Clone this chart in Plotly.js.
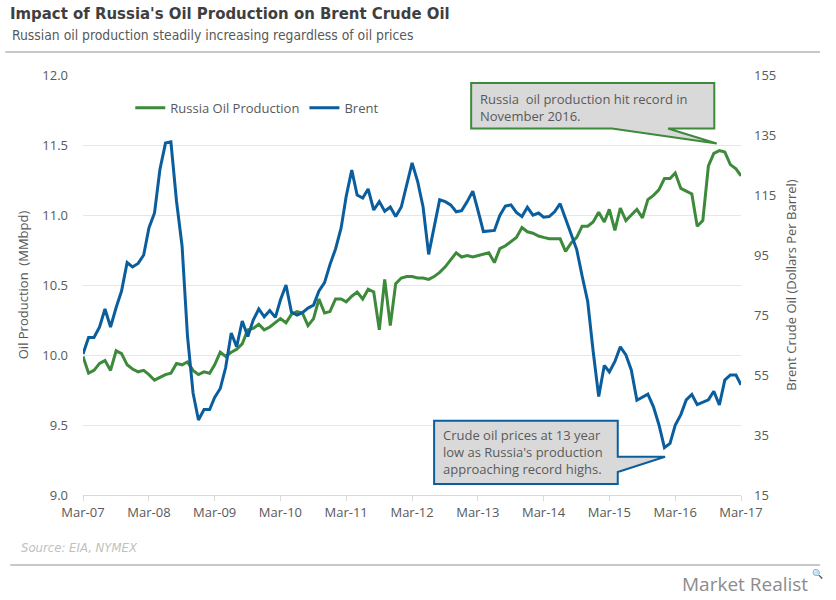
<!DOCTYPE html>
<html>
<head>
<meta charset="utf-8">
<script src="https://cdn.plot.ly/plotly-3.0.1.min.js"></script>
<style>
html, body { margin: 0; padding: 0; background: #ffffff; }
#chart { width: 836px; height: 600px; }
</style>
</head>
<body>
<div id="chart"></div>
<script>
// ---- Data (monthly, Mar-2007 .. Mar-2017) ----
const startMonth = '2007-03';
const monthCount = 121;

const russiaProduction = [
  9.99, 9.87, 9.89, 9.94, 9.96, 9.89, 10.03, 10.01, 9.93, 9.90,
  9.88, 9.89, 9.86, 9.82, 9.84, 9.86, 9.87, 9.94, 9.93, 9.95,
  9.89, 9.86, 9.88, 9.87, 9.93, 10.02, 9.99, 10.02, 10.04, 10.08,
  10.18, 10.19, 10.22, 10.18, 10.20, 10.23, 10.26, 10.23, 10.29, 10.31,
  10.30, 10.21, 10.26, 10.40, 10.30, 10.31, 10.40, 10.40, 10.38, 10.42,
  10.45, 10.40, 10.47, 10.45, 10.18, 10.54, 10.21, 10.51, 10.55, 10.56,
  10.56, 10.55, 10.55, 10.54, 10.56, 10.59, 10.63, 10.68, 10.73, 10.70,
  10.71, 10.70, 10.71, 10.72, 10.73, 10.66, 10.76, 10.78, 10.81, 10.84,
  10.91, 10.88, 10.87, 10.85, 10.84, 10.83, 10.83, 10.83, 10.74, 10.80,
  10.84, 10.92, 10.92, 10.95, 11.02, 10.95, 11.04, 10.89, 11.05, 10.96,
  11.00, 11.04, 10.98, 11.11, 11.14, 11.18, 11.26, 11.26, 11.30, 11.19,
  11.17, 11.15, 10.92, 10.96, 11.35, 11.44, 11.46, 11.45, 11.36, 11.33,
  11.28
];

const brentPrice = [
  62.0, 67.5, 67.5, 71.0, 77.0, 71.0, 77.5, 83.0, 92.5, 91.0,
  92.2, 95.0, 104.0, 109.0, 123.5, 132.3, 132.7, 113.0, 98.0, 68.0,
  49.0, 40.0, 43.5, 43.5, 47.5, 50.5, 57.5, 69.0, 64.4, 73.0,
  67.8, 73.3, 77.0, 74.4, 76.5, 74.2, 80.0, 85.0, 76.0, 75.0,
  75.8, 77.3, 78.3, 83.0, 85.8, 91.8, 97.0, 104.0, 114.5, 123.3,
  115.0, 114.0, 117.0, 110.0, 112.8, 109.6, 111.0, 107.8, 111.0, 119.0,
  125.7, 119.5, 111.0, 95.2, 104.0, 113.4, 112.8, 111.7, 109.4, 109.8,
  112.8, 116.3, 110.0, 102.8, 103.0, 103.2, 108.2, 111.3, 111.7, 109.2,
  107.8, 110.9, 108.3, 109.0, 107.6, 107.8, 109.4, 112.1, 107.1, 102.3,
  96.8, 88.0, 79.5, 63.0, 47.8, 58.2, 56.0, 59.5, 64.4, 61.7,
  56.7, 46.6, 47.7, 48.6, 44.4, 38.5, 30.8, 32.2, 38.3, 41.8,
  46.7, 48.5, 45.1, 46.0, 46.7, 49.6, 45.0, 53.3, 55.0, 55.0,
  51.7
];

const seriesNames = ['Russia Oil Production', 'Brent'];
const leftTicks = [9.0, 9.5, 10.0, 10.5, 11.0, 11.5, 12.0];
const rightTicks = [15, 35, 55, 75, 95, 115, 135, 155];

// monthly date strings
const months = [];
{
  let y = parseInt(startMonth.slice(0, 4), 10);
  let mo = parseInt(startMonth.slice(5, 7), 10);
  for (let i = 0; i < monthCount; i++) {
    months.push(y + '-' + String(mo).padStart(2, '0') + '-01');
    mo++;
    if (mo > 12) { mo = 1; y++; }
  }
}

const GREEN = '#3c8a3a';
const BLUE = '#0b5e9e';
const GREY_TXT = '#595959';
const FONT = 'Open Sans, Noto Sans, sans-serif';
const NARROW = 'Liberation Sans Narrow, DejaVu Sans Condensed, Roboto, sans-serif';

const traces = [
  {
    x: months, y: russiaProduction, name: seriesNames[0],
    type: 'scatter', mode: 'lines', yaxis: 'y',
    line: { color: GREEN, width: 3 }
  },
  {
    x: months, y: brentPrice, name: seriesNames[1],
    type: 'scatter', mode: 'lines', yaxis: 'y2',
    line: { color: BLUE, width: 3 }
  }
];

// pixel -> paper helpers (plot area: x 82.7..741, y 75..495)
const L = 82.7, R = 741, T = 75, B = 495;
const px = v => (v - L) / (R - L);
const py = v => (B - v) / (B - T);
const P = (a, b) => px(a).toFixed(4) + ',' + py(b).toFixed(4);

const callout1 = 'M' + P(471, 83) + ' L' + P(714.3, 83) + ' L' + P(714.3, 128.5) +
  ' L' + P(668, 128.5) + ' L' + P(716.7, 143.5) + ' L' + P(612, 128.5) +
  ' L' + P(471, 128.5) + ' Z';
const callout2 = 'M' + P(434, 420.7) + ' L' + P(617.7, 420.7) + ' L' + P(617.7, 456.7) +
  ' L' + P(665, 456.7) + ' L' + P(617.7, 472) + ' L' + P(617.7, 484) +
  ' L' + P(434, 484) + ' Z';

const layout = {
  width: 836, height: 600,
  margin: { l: L, r: 836 - R, t: T, b: 600 - B, pad: 0 },
  paper_bgcolor: '#ffffff', plot_bgcolor: '#ffffff',
  font: { family: FONT, color: GREY_TXT, size: 13 },
  showlegend: true,
  legend: {
    orientation: 'h', x: px(130), xanchor: 'left', y: py(107.7), yanchor: 'middle',
    font: { family: FONT, size: 13, color: GREY_TXT }, bgcolor: 'rgba(0,0,0,0)',
    itemwidth: 30, tracegroupgap: 0
  },
  title: {
    text: "<b>Impact of Russia's Oil Production on Brent Crude Oil</b>",
    x: 10 / 836, xanchor: 'left', xref: 'container',
    y: 1 - 13 / 600, yanchor: 'middle', yref: 'container',
    font: { family: NARROW, size: 16.6, color: '#3f3f3f' }
  },
  xaxis: {
    type: 'date',
    range: [months[0], months[monthCount - 1]],
    tick0: months[0], dtick: 'M12', tickformat: '%b-%y',
    showgrid: false, zeroline: false,
    showline: true, linecolor: '#d9d9d9', linewidth: 1,
    ticks: 'outside', ticklen: 5, tickcolor: '#d9d9d9',
    tickfont: { family: FONT, size: 13, color: GREY_TXT }
  },
  yaxis: {
    range: [9.0, 12.0], tickvals: leftTicks,
    ticktext: leftTicks.map(v => v.toFixed(1)),
    showgrid: true, gridcolor: '#e6e6e6', gridwidth: 1,
    zeroline: false, showline: false, ticks: '',
    ticklabelstandoff: 14,
    tickfont: { family: FONT, size: 13, color: GREY_TXT },
    title: { text: 'Oil Production  (MMbpd)', standoff: 10,
      font: { family: FONT, size: 13, color: GREY_TXT } }
  },
  yaxis2: {
    range: [15, 155], tickvals: rightTicks,
    overlaying: 'y', side: 'right',
    showgrid: false, zeroline: false, showline: false, ticks: '',
    ticklabelstandoff: 12,
    tickfont: { family: FONT, size: 13, color: GREY_TXT },
    title: { text: 'Brent Crude Oil (Dollars Per Barrel)', standoff: 11,
      font: { family: FONT, size: 13, color: GREY_TXT } }
  },
  shapes: [
    { type: 'line', xref: 'paper', yref: 'paper', x0: px(5), x1: px(820), y0: py(52), y1: py(52),
      line: { color: '#c8c8c8', width: 2 } },
    { type: 'line', xref: 'paper', yref: 'paper', x0: px(10), x1: px(820), y0: py(565), y1: py(565),
      line: { color: '#c8c8c8', width: 2 } },
    { type: 'path', xref: 'paper', yref: 'paper', path: callout1,
      fillcolor: '#d9d9d9', line: { color: GREEN, width: 2 } },
    { type: 'path', xref: 'paper', yref: 'paper', path: callout2,
      fillcolor: '#d9d9d9', line: { color: BLUE, width: 2 } }
  ],
  annotations: [
    { text: 'Russian oil production steadily increasing regardless of oil prices',
      xref: 'paper', yref: 'paper', x: px(10), y: py(35), xanchor: 'left', yanchor: 'middle',
      showarrow: false, font: { family: NARROW, size: 13.8, color: '#595959' } },
    { text: 'Russia  oil production hit record in<br>November 2016.',
      xref: 'paper', yref: 'paper', x: px(478), y: py(88), xanchor: 'left', yanchor: 'top',
      align: 'left', showarrow: false, font: { family: FONT, size: 13, color: GREY_TXT } },
    { text: "Crude oil prices at 13 year<br>low as Russia's production<br>approaching record highs.",
      xref: 'paper', yref: 'paper', x: px(441), y: py(424), xanchor: 'left', yanchor: 'top',
      align: 'left', showarrow: false, font: { family: FONT, size: 13, color: GREY_TXT } },
    { text: '<i>Source: EIA, NYMEX</i>',
      xref: 'paper', yref: 'paper', x: px(19), y: py(547), xanchor: 'left', yanchor: 'middle',
      showarrow: false, font: { family: NARROW, size: 13, color: '#bfbfbf' } },
    { text: 'Market Realist',
      xref: 'paper', yref: 'paper', x: px(810), y: py(584), xanchor: 'right', yanchor: 'middle',
      showarrow: false, font: { family: FONT, size: 19, color: '#8c8c8c' } },
    { text: '🔍',
      xref: 'paper', yref: 'paper', x: px(818), y: py(573), xanchor: 'center', yanchor: 'middle',
      showarrow: false, font: { family: FONT, size: 9, color: '#8c8c8c' } }
  ]
};

Plotly.newPlot('chart', traces, layout, { displayModeBar: false, staticPlot: true });
</script>
</body>
</html>
